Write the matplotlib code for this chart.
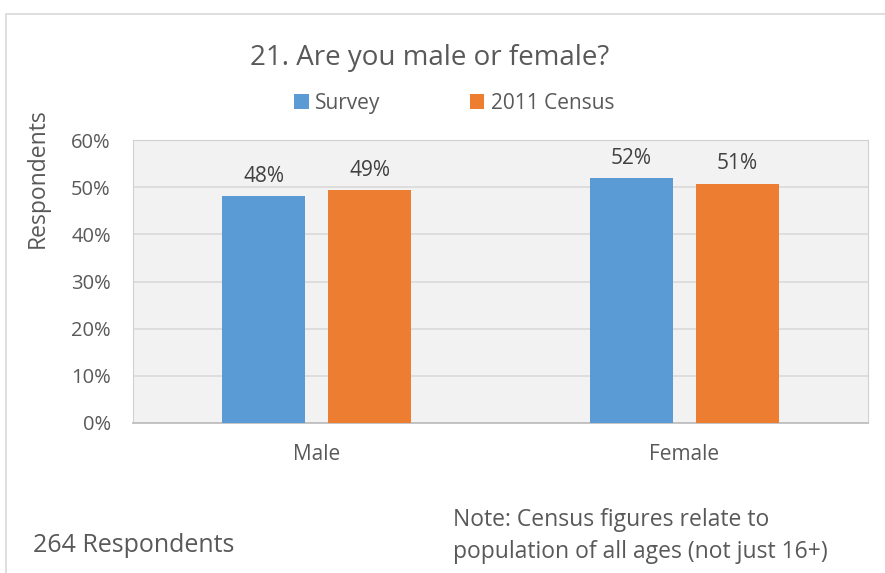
import matplotlib.pyplot as plt
from matplotlib.patches import Rectangle

plt.rcParams['font.family'] = ['Open Sans', 'DejaVu Sans']

categories = ['Male', 'Female']
survey = [48.1, 51.9]
census = [49.3, 50.7]
survey_labels = ['48%', '52%']
census_labels = ['49%', '51%']
yticks = [0, 10, 20, 30, 40, 50, 60]

blue = '#5b9bd5'
orange = '#ed7d31'
text_col = '#595959'

fig = plt.figure(figsize=(8.85, 5.73), dpi=100)

# light outer frame, cropped at right and bottom
fig.patches.append(Rectangle((6 / 885, -0.05), 1.0, (573 - 14) / 573 + 0.05,
                             transform=fig.transFigure, fill=False,
                             edgecolor='#d9d9d9', linewidth=1.2))

ax = fig.add_axes([133 / 885, (573 - 423) / 573, 735 / 885, 283 / 573])
ax.set_facecolor('#f2f2f2')

x = range(len(categories))
w = 0.226
off = 0.144
b1 = ax.bar([i - off for i in x], survey, width=w, color=blue, label='Survey', zorder=3)
b2 = ax.bar([i + off for i in x], census, width=w, color=orange, label='2011 Census', zorder=3)

for bars, labels in ((b1, survey_labels), (b2, census_labels)):
    for rect, lab in zip(bars, labels):
        ax.text(rect.get_x() + rect.get_width() / 2, rect.get_height() + 2.0, lab,
                ha='center', va='bottom', fontsize=15, color='#404040')

ax.set_xlim(-0.5, 1.5)
ax.set_ylim(0, 60)
ax.set_yticks(yticks)
ax.set_yticklabels([f'{t}%' for t in yticks], fontsize=14.5, color=text_col)
ax.set_xticks(list(x))
ax.set_xticklabels(categories, fontsize=15, color=text_col)
ax.tick_params(length=0)
ax.tick_params(axis='y', pad=16)
ax.tick_params(axis='x', pad=15)
ax.yaxis.grid(True, color='#d9d9d9', linewidth=1.2, zorder=0)
ax.set_axisbelow(True)
for s in ('left', 'right', 'top'):
    ax.spines[s].set_color('#d0d0d0')
ax.spines['bottom'].set_color('#bfbfbf')
ax.spines['bottom'].set_linewidth(1.3)

fig.text(430 / 885, 1 - 58 / 573, '21. Are you male or female?', ha='center', va='center',
         fontsize=20, color=text_col)
fig.text(38 / 885, 1 - 178 / 573, 'Respondents', rotation=90, ha='center', va='center',
         fontsize=16.5, color=text_col)

fig.legend(handles=[b1, b2], loc='center', bbox_to_anchor=(454 / 885, 1 - 103 / 573),
           ncol=2, frameon=False, fontsize=15, handlelength=0.7, handleheight=0.7,
           handletextpad=0.3, columnspacing=4.3, labelcolor=text_col)

fig.text(33 / 885, 1 - 546 / 573, '264 Respondents', ha='left', va='center',
         fontsize=18, color=text_col)
fig.text(453 / 885, 1 - 536 / 573, 'Note: Census figures relate to\npopulation of all ages (not just 16+)',
         ha='left', va='center', fontsize=16.5, color=text_col, linespacing=1.42)

fig.savefig('out.png', dpi=100, facecolor='white')
